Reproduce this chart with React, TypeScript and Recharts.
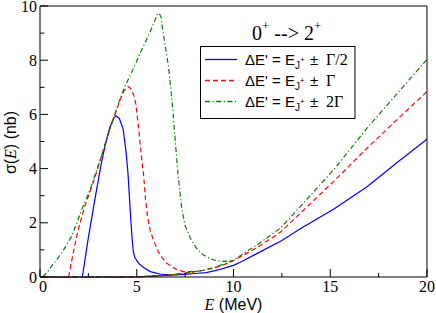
import { LineChart, Line, XAxis, YAxis, Legend } from "recharts";

// values (E in MeV, sigma in nb)
const blueLowE = [0, 2, 4, 5, 5.5, 6, 6.5, 7, 7.5, 8, 8.6, 9.2, 10, 10.5, 11.25, 12.5, 13.45, 15.17, 16.9, 18.62, 20];
const blueLowS = [0, 0, 0, 0, 0.02, 0.04, 0.06, 0.08, 0.1, 0.13, 0.16, 0.26, 0.43, 0.6, 0.88, 1.35, 1.78, 2.5, 3.33, 4.32, 5.08];
const bluePeakE = [2.19, 2.48, 2.83, 3.17, 3.4, 3.6, 3.8, 3.93, 4.1, 4.3, 4.45, 4.55, 4.65, 4.75, 4.82, 4.9, 5.1, 5.35, 5.7, 6.2, 6.6];
const bluePeakS = [0, 1.37, 2.84, 4.2, 4.95, 5.5, 5.85, 5.95, 5.85, 5.45, 4.6, 3.8, 2.6, 1.5, 0.95, 0.72, 0.5, 0.35, 0.2, 0.11, 0.07];

const redLowE = [0, 2, 4, 5, 5.5, 6, 6.5, 7, 7.5, 8, 8.5, 9, 9.5, 10, 10.5, 11.25, 12.42, 13.45, 15.17, 16.9, 18.62, 20];
const redLowS = [0, 0, 0, 0, 0.02, 0.04, 0.07, 0.1, 0.14, 0.2, 0.25, 0.33, 0.45, 0.6, 0.8, 1.1, 1.65, 2.35, 3.52, 4.75, 5.92, 6.84];
const redPeakE = [1.48, 1.71, 1.97, 2.31, 2.74, 3.0, 3.3, 3.6, 3.9, 4.15, 4.35, 4.55, 4.7, 4.85, 4.95, 5.05, 5.15, 5.25, 5.35, 5.45, 5.55, 5.7, 5.86, 6.1, 6.3, 6.55, 7.0, 7.4, 7.9];
const redPeakS = [0, 0.87, 1.74, 2.6, 3.46, 4.05, 4.75, 5.45, 6.05, 6.55, 6.88, 7.03, 6.95, 6.7, 6.4, 5.8, 5.1, 4.4, 3.8, 2.9, 2.25, 1.7, 1.37, 0.95, 0.72, 0.51, 0.3, 0.2, 0.2];

const greenLowE = [0, 2, 4, 5, 5.5, 6, 6.5, 7, 7.5, 8, 8.5, 9, 9.5, 10, 10.5, 11.25, 12.42, 13.45, 15.17, 16.9, 18.62, 20];
const greenLowS = [0, 0, 0, 0, 0.02, 0.04, 0.07, 0.1, 0.14, 0.19, 0.26, 0.35, 0.48, 0.63, 0.85, 1.2, 1.8, 2.6, 3.95, 5.49, 6.9, 8.03];
const greenPeakE = [0.15, 0.4, 0.58, 0.85, 1.1, 1.35, 1.62, 1.9, 2.14, 2.4, 2.65, 2.9, 3.17, 3.5, 3.8, 4.1, 4.4, 4.8, 5.2, 5.6, 5.9, 6.05, 6.15, 6.25, 6.35, 6.5, 6.64, 6.81, 6.95, 7.05, 7.16, 7.33, 7.5, 7.76, 8.1, 8.45, 8.8, 9.14, 9.5, 9.9];
const greenPeakS = [0, 0.2, 0.38, 0.62, 0.87, 1.15, 1.49, 1.98, 2.47, 2.9, 3.34, 3.9, 4.44, 5.2, 5.85, 6.5, 7.05, 7.65, 8.3, 8.9, 9.4, 9.68, 9.74, 9.6, 9.1, 8.4, 7.77, 6.6, 5.4, 4.5, 3.6, 2.5, 1.9, 1.45, 1.05, 0.81, 0.67, 0.6, 0.58, 0.6];

const xTicks = [0, 2.5, 5, 7.5, 10, 12.5, 15, 17.5, 20];
const yTicks = [0, 1, 2, 3, 4, 5, 6, 7, 8, 9, 10];
const legendLabels = ["Γ/2", "Γ", "2Γ"];

const pts = (xs: number[], ys: number[]) => xs.map((E, i) => ({ E, s: ys[i] }));

const series = [
  { key: "half", color: "#0000ff", dash: undefined, low: pts(blueLowE, blueLowS), peak: pts(bluePeakE, bluePeakS), label: legendLabels[0] },
  { key: "one", color: "#ff0000", dash: "5 3", low: pts(redLowE, redLowS), peak: pts(redPeakE, redPeakS), label: legendLabels[1] },
  { key: "two", color: "#008000", dash: "5 2.5 1.2 2.5", low: pts(greenLowE, greenLowS), peak: pts(greenPeakE, greenPeakS), label: legendLabels[2] },
];

const SERIF = "'Liberation Serif', 'Times New Roman', serif";
const SANS = "'Liberation Sans', Arial, sans-serif";

function BottomTick({ x, y, payload }: any) {
  const major = payload.value % 5 === 0;
  return (
    <g>
      <line x1={x} x2={x} y1={y} y2={y - (major ? 8 : 4)} stroke="#000" />
      {major && (
        <text x={x + (payload.value === 0 ? 3 : 0)} y={y + 14.5} textAnchor="middle" fontFamily={SERIF} fontSize={16} fill="#000">
          {payload.value}
        </text>
      )}
    </g>
  );
}

function TopTick({ x, y, payload }: any) {
  const major = payload.value % 5 === 0;
  return <line x1={x} x2={x} y1={y} y2={y + (major ? 8 : 4)} stroke="#000" />;
}

function LeftTick({ x, y, payload }: any) {
  const major = payload.value % 2 === 0;
  return (
    <g>
      <line x1={x} x2={x + (major ? 8 : 4.5)} y1={y} y2={y} stroke="#000" />
      {major && (
        <text x={x - 3} y={y + 5.5} textAnchor="end" fontFamily={SERIF} fontSize={16} fill="#000">
          {payload.value}
        </text>
      )}
    </g>
  );
}

function RightTick({ x, y, payload }: any) {
  const major = payload.value % 2 === 0;
  return <line x1={x} x2={x - (major ? 8 : 4.5)} y1={y} y2={y} stroke="#000" />;
}

function YLabel({ viewBox }: any) {
  const cx = viewBox.x + viewBox.width - 24;
  const cy = viewBox.y + viewBox.height / 2 + 1;
  return (
    <text transform={`translate(${cx},${cy}) rotate(-90)`} textAnchor="middle" fontFamily={SANS} fontSize={16} fill="#000">
      σ(<tspan fontFamily={SERIF} fontStyle="italic">E</tspan>) (nb)
    </text>
  );
}

function XLabel({ viewBox }: any) {
  const cx = viewBox.x + viewBox.width / 2;
  return (
    <text x={cx} y={viewBox.y + 33} textAnchor="middle" fontFamily={SANS} fontSize={16} fill="#000">
      <tspan fontFamily={SERIF} fontStyle="italic">E</tspan> (MeV)
    </text>
  );
}

function LegendBox() {
  const rows = [59.5, 80.5, 101.5];
  return (
    <svg width={436} height={313} style={{ position: "absolute", left: 0, top: 0 }}>
      <text x={252} y={40} fontFamily={SERIF} fontSize={20} fill="#000">
        0<tspan dy={-10} fontSize={13}>+</tspan>
        <tspan dy={10}> --&gt; 2</tspan>
        <tspan dy={-10} fontSize={13}>+</tspan>
      </text>
      <rect x={200.5} y={46.5} width={154.5} height={72} fill="#fff" stroke="#000" />
      {series.map((s, i) => (
        <g key={s.key}>
          <line x1={205} x2={237} y1={rows[i]} y2={rows[i]} stroke={s.color} strokeWidth={1.3} strokeDasharray={s.dash} />
          <text x={245} y={rows[i] + 5.5} fontFamily={SANS} fontSize={15} fill="#000">
            ΔE' = E
            <tspan dy={4} fontSize={10}>J</tspan>
            <tspan dy={-7} fontSize={8}>+</tspan>
            <tspan x={310} dy={3}>±</tspan>
            <tspan x={326} fontFamily={SERIF} fontSize={16}>{s.label}</tspan>
          </text>
        </g>
      ))}
    </svg>
  );
}

export default function App() {
  return (
    <div style={{ position: "absolute", left: 0, top: 0, width: 436, height: 313, background: "#fff" }}>
      <LineChart width={436} height={313} margin={{ top: 5, right: 8, bottom: 35, left: 39 }}>
        <XAxis xAxisId="b" dataKey="E" type="number" domain={[0, 20]} ticks={xTicks} interval={0}
          height={1} tickSize={0} tickMargin={0} tickLine={false} tick={BottomTick}
          axisLine={{ stroke: "#000" }} label={XLabel} />
        <XAxis xAxisId="t" orientation="top" dataKey="E" type="number" domain={[0, 20]} ticks={xTicks} interval={0}
          height={1} tickSize={0} tickMargin={0} tickLine={false} tick={TopTick} axisLine={{ stroke: "#000" }} />
        <YAxis yAxisId="l" type="number" domain={[0, 10]} ticks={yTicks} interval={0}
          width={1} tickSize={0} tickMargin={0} tickLine={false} tick={LeftTick}
          axisLine={{ stroke: "#000" }} label={YLabel} />
        <YAxis yAxisId="r" orientation="right" type="number" domain={[0, 10]} ticks={yTicks} interval={0}
          width={1} tickSize={0} tickMargin={0} tickLine={false} tick={RightTick} axisLine={{ stroke: "#000" }} />
        {series.map((s) => (
          <Line key={s.key + "-low"} data={s.low} dataKey="s" xAxisId="b" yAxisId="l" type="linear"
            stroke={s.color} strokeWidth={1.2} strokeDasharray={s.dash} dot={false} legendType="none"
            isAnimationActive={false} />
        ))}
        {series.map((s) => (
          <Line key={s.key + "-peak"} data={s.peak} dataKey="s" xAxisId="b" yAxisId="l" type="linear"
            stroke={s.color} strokeWidth={1.2} strokeDasharray={s.dash} dot={false} legendType="none"
            isAnimationActive={false} />
        ))}
        <Legend verticalAlign="middle" align="center" layout="horizontal"
          wrapperStyle={{ left: 0, top: 0, width: 436, height: 313, pointerEvents: "none" }}
          content={() => <LegendBox />} />
      </LineChart>
    </div>
  );
}
